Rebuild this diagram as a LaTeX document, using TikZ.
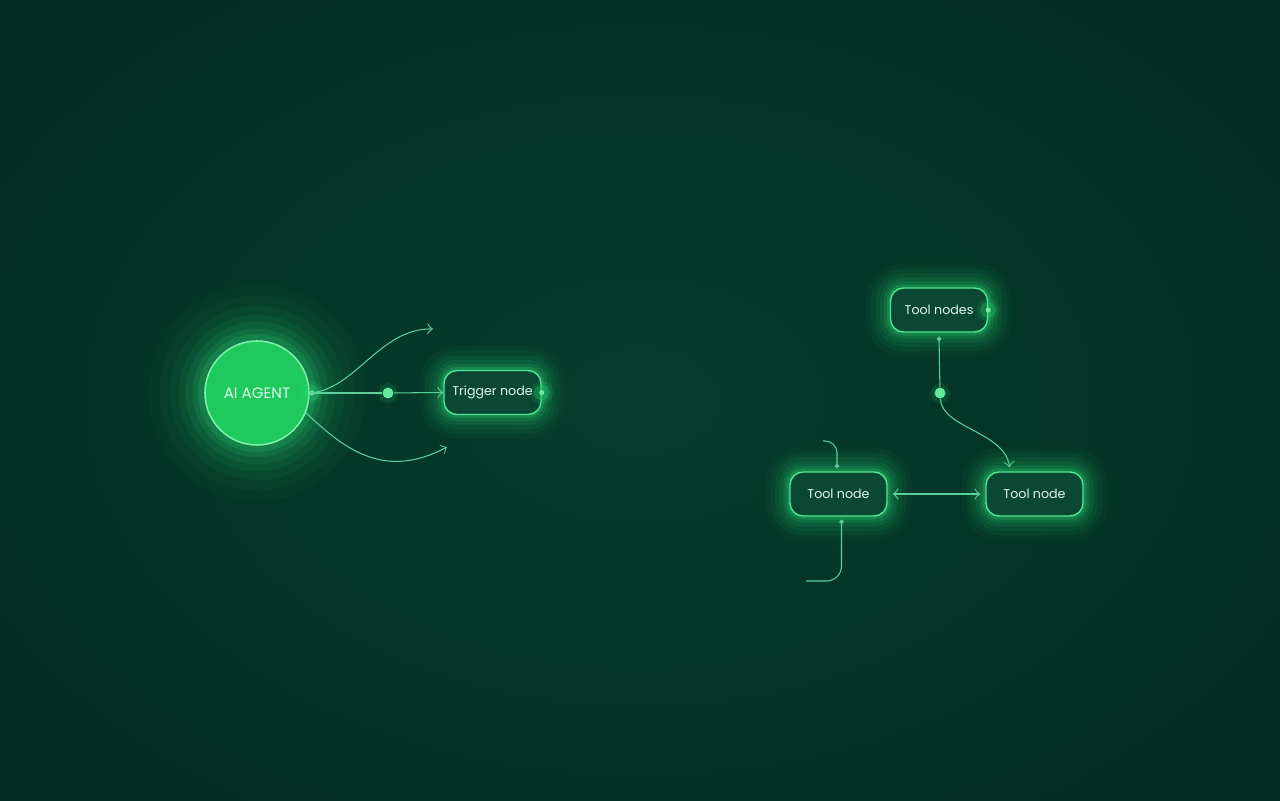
\documentclass[tikz,border=0pt]{standalone}
\usepackage{fontspec}
\setmainfont{Poppins}
\usepackage{tikz}
\usetikzlibrary{arrows, arrows.meta, positioning, backgrounds}

\definecolor{bgmid}{HTML}{053D2C}
\definecolor{bgedge}{HTML}{032F22}
\definecolor{glowgreen}{HTML}{2EE27A}
\definecolor{agentfill}{HTML}{1FC95E}
\definecolor{agentrim}{HTML}{7BF0A8}
\definecolor{boxfill}{HTML}{0B4833}
\definecolor{boxrim}{HTML}{4FE890}
\definecolor{wirecol}{HTML}{5CCF9C}
\definecolor{labelcol}{HTML}{DDF7E8}

\tikzset{
  glowbig/.style={preaction={draw=glowgreen, line width=32pt, opacity=0.03},
                  preaction={draw=glowgreen, line width=26pt, opacity=0.04},
                  preaction={draw=glowgreen, line width=20pt, opacity=0.05},
                  preaction={draw=glowgreen, line width=15pt, opacity=0.07},
                  preaction={draw=glowgreen, line width=11pt, opacity=0.09},
                  preaction={draw=glowgreen, line width=7pt, opacity=0.12},
                  preaction={draw=glowgreen, line width=4pt, opacity=0.16}},
  glowsmall/.style={preaction={draw=glowgreen, line width=14pt, opacity=0.035},
                    preaction={draw=glowgreen, line width=11pt, opacity=0.05},
                    preaction={draw=glowgreen, line width=8.5pt, opacity=0.07},
                    preaction={draw=glowgreen, line width=6pt, opacity=0.09},
                    preaction={draw=glowgreen, line width=3.8pt, opacity=0.13},
                    preaction={draw=glowgreen, line width=2pt, opacity=0.2}},
  agentball/.style={circle, glowbig, fill=agentfill, draw=agentrim, line width=0.45pt,
                    minimum size=1.04cm, inner sep=0pt, text=labelcol,
                    font=\fontsize{4.3}{5}\selectfont},
  toolbox/.style={rectangle, rounded corners=1.3mm, glowsmall, fill=boxfill,
                  draw=boxrim, line width=0.4pt, minimum width=0.97cm,
                  minimum height=0.44cm, inner sep=0pt, text=labelcol,
                  font=\fontsize{3.6}{5}\selectfont},
  wire/.style={draw=wirecol, line width=0.3pt, >=to},
  hub/.style={circle, fill=glowgreen!75!white, inner sep=0pt, minimum size=0.11cm,
              preaction={draw=glowgreen, line width=2.5pt, opacity=0.12}},
  spot/.style={circle, fill=glowgreen!70!white, inner sep=0pt, minimum size=0.05cm,
               preaction={draw=glowgreen, line width=3pt, opacity=0.25},
               preaction={draw=glowgreen, line width=5pt, opacity=0.12}},
  pin/.style={-{Circle[length=0.45mm]}}
}

\begin{document}
\begin{tikzpicture}
    % backdrop
    \useasboundingbox (0,0) rectangle (12.8,8);
    \shade[inner color=bgmid, outer color=bgedge] (-1,-1) rectangle (13.8,9);

    % left group
    \node (agent) at (2.57,4.07) [agentball] {AI AGENT};
    \node (trigger) at (4.925,4.075) [toolbox] {Trigger node};
    \node (hubL) at (3.88,4.07) [hub] {};
    \node (spotA) at ([xshift=0.2mm]agent.east) [spot] {};
    \node (spotT) at (trigger.east) [spot] {};
    \coordinate (upEnd) at (4.33,4.71);
    \coordinate (lowEnd) at (4.47,3.53);

    \draw [wire,->] (agent.east) .. controls (3.55,4.1) and (3.8,4.72) .. (upEnd);
    \draw [wire] (agent.east) -- (hubL);
    \draw [wire,->] (hubL) -- (trigger.west);
    \draw [wire,->] (agent.-22) .. controls (3.45,3.5) and (3.85,3.2) .. (lowEnd);

    % right group
    \node (toolTop) at (9.39,4.90) [toolbox] {Tool nodes};
    \node (toolL) at (8.385,3.06) [toolbox] {Tool node};
    \node (toolR) at (10.345,3.06) [toolbox] {Tool node};
    \node (hubR) at (9.40,4.07) [hub] {};
    \node (spotTop) at (toolTop.east) [spot] {};
    \coordinate (hookA) at (8.23,3.59);
    \coordinate (hookB) at (8.06,2.19);

    \draw [wire,pin] (hubR) -- ([yshift=-0.4mm]toolTop.south);
    \draw [wire,->] (hubR) .. controls (9.42,3.72) and (10.05,3.68) .. ([xshift=-2.5mm,yshift=0.4mm]toolR.north);
    \draw [wire,<->] ([xshift=0.5mm]toolL.east) -- ([xshift=-0.5mm]toolR.west);
    \draw [wire,rounded corners=1.2mm,pin] (hookA) -| ([xshift=-0.15mm,yshift=0.3mm]toolL.north);
    \draw [wire,rounded corners=1.5mm,{Circle[length=0.45mm]}-] ([xshift=0.3mm,yshift=-0.3mm]toolL.south) |- (hookB);
\end{tikzpicture}
\end{document}
